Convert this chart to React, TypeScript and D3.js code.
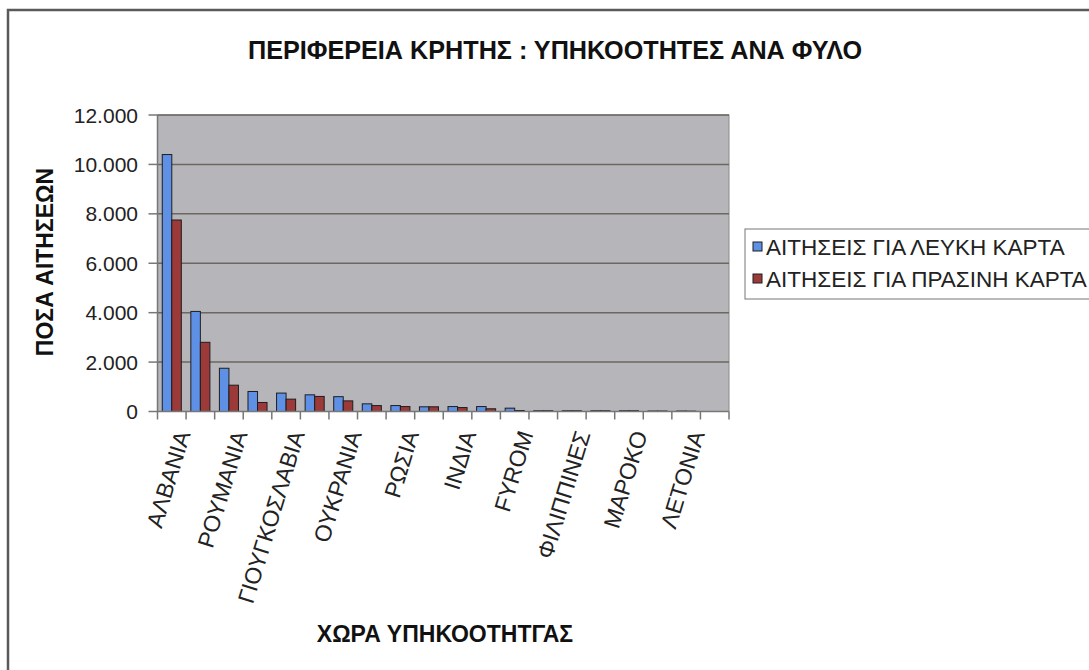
import React from "react";
import * as d3 from "d3";

const title = "ΠΕΡΙΦΕΡΕΙΑ ΚΡΗΤΗΣ : ΥΠΗΚΟΟΤΗΤΕΣ ΑΝΑ ΦΥΛΟ";
const yTitle = "ΠΟΣΑ ΑΙΤΗΣΕΩΝ";
const xTitle = "ΧΩΡΑ ΥΠΗΚΟΟΤΗΤΓΑΣ";
const seriesNames = ["ΑΙΤΗΣΕΙΣ ΓΙΑ ΛΕΥΚΗ ΚΑΡΤΑ", "ΑΙΤΗΣΕΙΣ ΓΙΑ ΠΡΑΣΙΝΗ ΚΑΡΤΑ"];
// 20 categories; only every other label is printed in the reference
const categoryLabels = [
  "ΑΛΒΑΝΙΑ", "", "ΡΟΥΜΑΝΙΑ", "", "ΓΙΟΥΓΚΟΣΛΑΒΙΑ", "", "ΟΥΚΡΑΝΙΑ", "", "ΡΩΣΙΑ", "",
  "ΙΝΔΙΑ", "", "FYROM", "", "ΦΙΛΙΠΠΙΝΕΣ", "", "ΜΑΡΟΚΟ", "", "ΛΕΤΟΝΙΑ", "",
];
const whiteCard = [10400, 4050, 1750, 810, 745, 675, 600, 310, 240, 190, 200, 200, 135, 30, 30, 30, 30, 20, 20, 0];
const greenCard = [7750, 2800, 1065, 365, 500, 610, 430, 240, 200, 190, 160, 110, 40, 30, 30, 30, 30, 20, 15, 0];
const yTicks = [0, 2000, 4000, 6000, 8000, 10000, 12000];

const colors = ["#5e90e6", "#9c3a3a"];
const FONT = "'Liberation Sans', Arial, sans-serif";

const locale = d3.formatLocale({ decimal: ",", thousands: ".", grouping: [3], currency: ["", "€"] });
const fmt = locale.format(",d");

export default function App() {
  const W = 1089, H = 670;
  const left = 157.5, right = 729, top = 115, bottom = 411.5;
  const idx = categoryLabels.map((_, i) => i);
  const x = d3.scaleBand<number>().domain(idx).range([left, right]).paddingInner(0).paddingOuter(0);
  const bw = x.bandwidth();
  const inner = d3.scaleBand<number>().domain([0, 1]).range([bw / 6, bw - bw / 6]);
  const y = d3.scaleLinear().domain([0, 12000]).range([bottom, top]);
  const series = [whiteCard, greenCard];

  return (
    <svg width={W} height={H} style={{ position: "absolute", left: 0, top: 0, background: "#fff" }}>
      <rect x={8} y={10} width={1200} height={800} fill="#fff" stroke="#5a5a5a" strokeWidth={2.5} />
      <text x={555} y={59} textAnchor="middle" fontFamily={FONT} fontWeight="bold" fontSize={25} fill="#111"
        textLength={614} lengthAdjust="spacingAndGlyphs">{title}</text>

      <rect x={left} y={top} width={right - left} height={bottom - top} fill="#b5b5ba" stroke="#8a8a8a" strokeWidth={1} />
      {yTicks.filter(t => t > 0).map(t => (
        <line key={"g" + t} x1={left} x2={right} y1={y(t)} y2={y(t)} stroke="#6e675f" strokeWidth={1.5} />
      ))}
      {series.map((vals, s) =>
        vals.map((v, i) => (
          <rect key={s + "-" + i} x={(x(i) as number) + (inner(s) as number)} width={inner.bandwidth()}
            y={y(v)} height={bottom - y(v)} fill={colors[s]} stroke="#1e1e1e" strokeWidth={1}
            style={{ display: v > 0 ? undefined : "none" }} />
        ))
      )}
      {/* axes */}
      <line x1={left} x2={left} y1={top} y2={bottom} stroke="#777" strokeWidth={1.5} />
      <line x1={left} x2={right} y1={bottom} y2={bottom} stroke="#777" strokeWidth={1.5} />
      {yTicks.map(t => (
        <g key={"y" + t}>
          <line x1={left - 9} x2={left} y1={y(t)} y2={y(t)} stroke="#777" strokeWidth={1.5} />
          <text x={138} y={y(t)} dy="0.36em" textAnchor="end" fontFamily={FONT} fontSize={21} fill="#222">{fmt(t)}</text>
        </g>
      ))}
      {idx.concat([idx.length]).map(i => {
        const xx = i < idx.length ? (x(i) as number) : right;
        return <line key={"xt" + i} x1={xx} x2={xx} y1={bottom} y2={bottom + 8} stroke="#777" strokeWidth={1.5} />;
      })}
      {idx.map(i => categoryLabels[i] ? (
        <text key={"xl" + i} transform={`translate(${(x(i) as number) + bw / 2 + 3},${429}) rotate(-73)`}
          textAnchor="end" dy="0.72em" fontFamily={FONT} fontSize={23} fill="#222">{categoryLabels[i]}</text>
      ) : null)}

      <text transform={`translate(53,262) rotate(-90)`} textAnchor="middle" fontFamily={FONT} fontWeight="bold" fontSize={23} fill="#111">{yTitle}</text>
      <text x={445} y={642} textAnchor="middle" fontFamily={FONT} fontWeight="bold" fontSize={23} fill="#111">{xTitle}</text>

      <rect x={745} y={229} width={400} height={70} fill="#fff" stroke="#777" strokeWidth={1} />
      {seriesNames.map((n, s) => (
        <g key={"lg" + s}>
          <rect x={753} y={242 + s * 32} width={9} height={9} fill={colors[s]} stroke="#1e1e1e" strokeWidth={1} />
          <text x={766} y={247 + s * 32} dy="0.36em" fontFamily={FONT} fontSize={22.5} fill="#222">{n}</text>
        </g>
      ))}
    </svg>
  );
}
